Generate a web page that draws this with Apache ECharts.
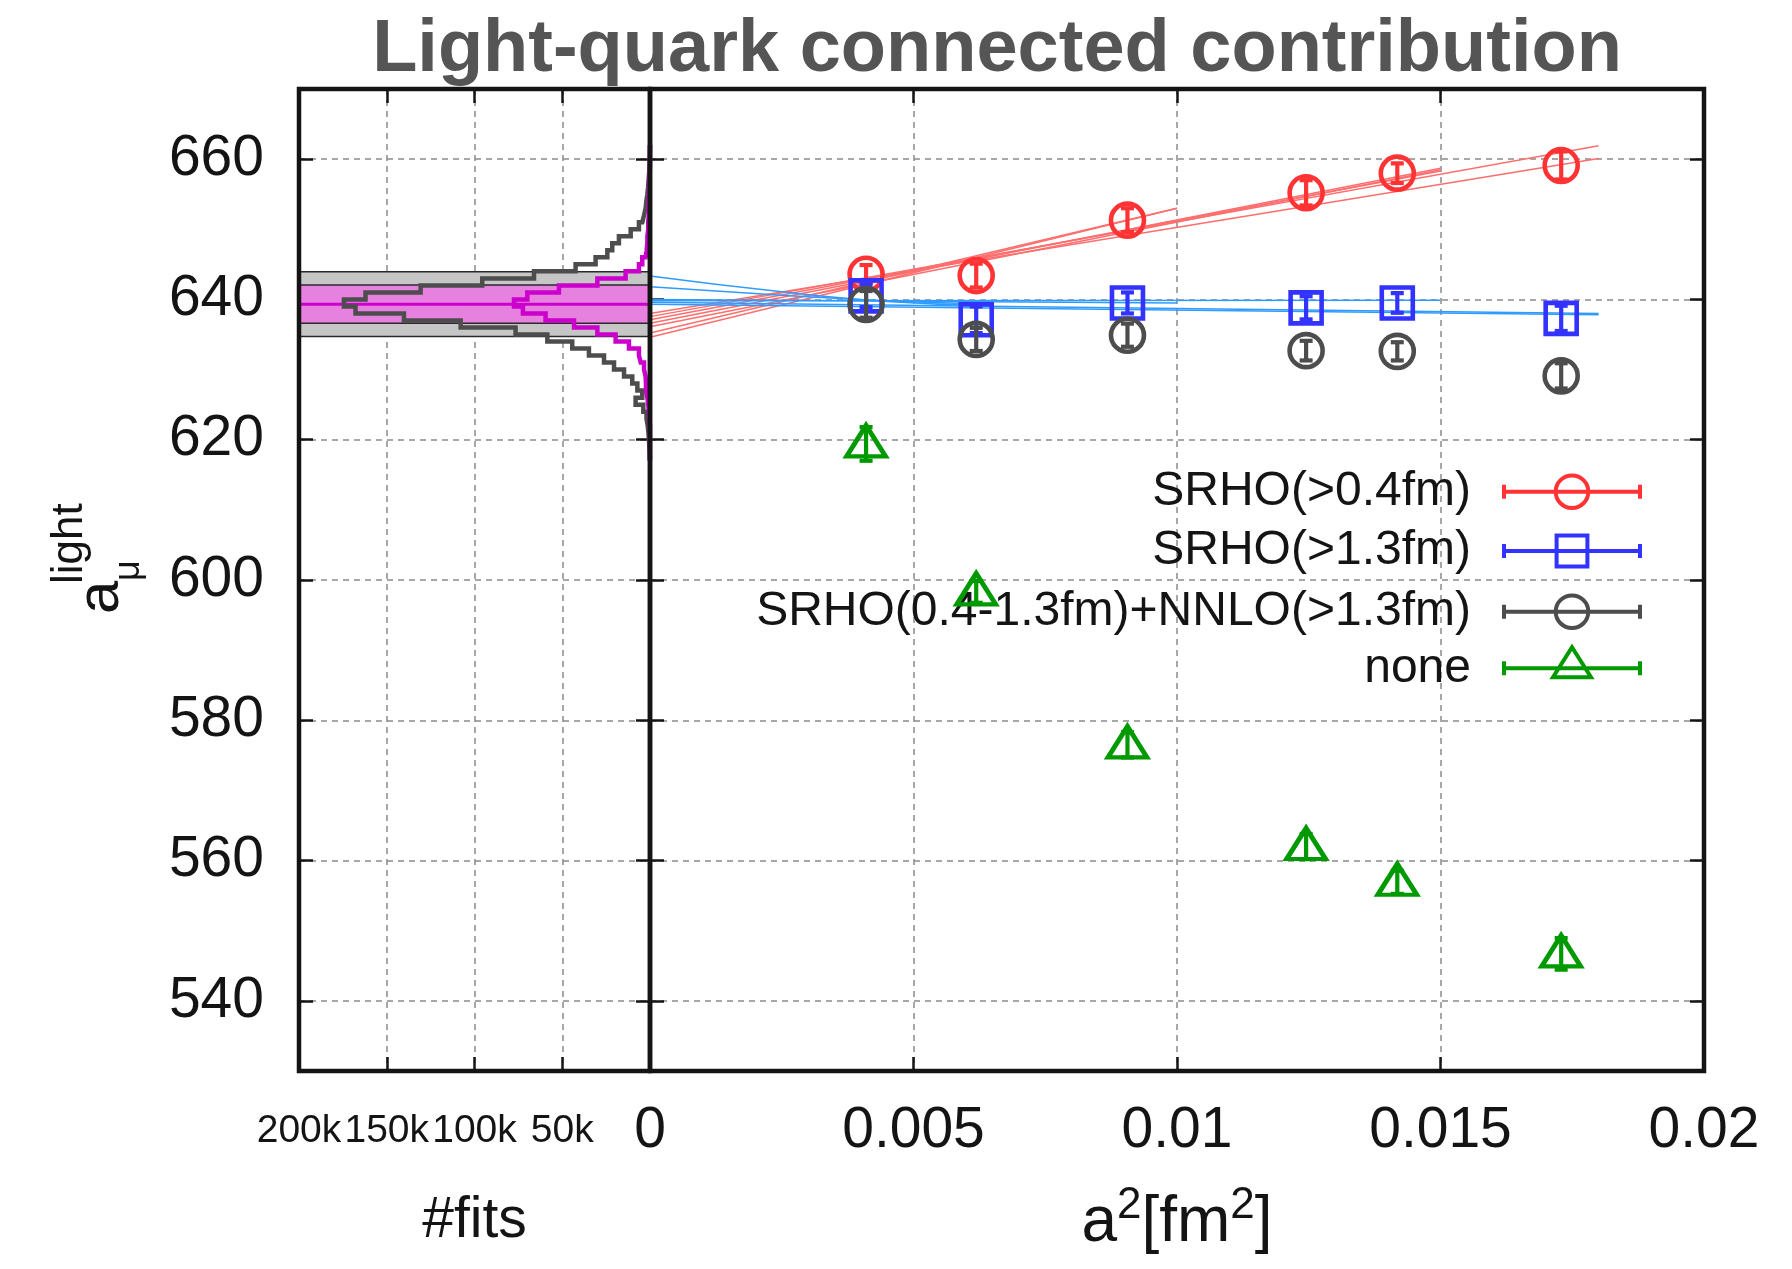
<!DOCTYPE html>
<html>
<head>
<meta charset="utf-8">
<title>Light-quark connected contribution</title>
<script src="https://cdn.jsdelivr.net/npm/echarts@6.0.0/dist/echarts.min.js"></script>
<style>
  html, body { margin: 0; padding: 0; background: #fff; }
  #chart { width: 1792px; height: 1269px; }
</style>
</head>
<body>
<div id="chart"></div>
<script>
// lattice spacings squared [fm^2]
var a2 = [0.00410, 0.00619, 0.00906, 0.01245, 0.01418, 0.01729];

// a_mu^light per ensemble, for each taste-breaking correction
var srho04 = [643.6, 643.4, 651.3, 655.2, 658.0, 659.1];
var srho04Err = [1.3, 1.7, 1.7, 1.8, 1.4, 2.0];
var srho13 = [640.5, 637.1, 639.5, 638.8, 639.5, 637.3];
var srho13Err = [1.6, 1.9, 1.5, 1.65, 1.4, 1.8];
var srhoNnlo = [639.3, 634.3, 634.9, 632.7, 632.6, 629.1];
var srhoNnloErr = [1.9, 1.65, 1.65, 1.4, 1.3, 1.8];
var noCorr = [619.4, 598.3, 576.5, 562.0, 556.9, 546.7];
var noCorrErr = [2.4, 1.55, 1.8, 1.8, 1.65, 2.25];

var seriesNames = ['SRHO(>0.4fm)', 'SRHO(>1.3fm)', 'SRHO(0.4-1.3fm)+NNLO(>1.3fm)', 'none'];

// continuum fits, sampled [a^2, a_mu]
var redFits = [
  [[0, 634.6], [0.010, 653.0]],
  [[0, 635.2], [0.010, 653.0]],
  [[0, 636.1], [0.015, 658.5]],
  [[0, 636.6], [0.015, 658.7]],
  [[0, 637.1], [0.015, 658.3]],
  [[0, 637.55], [0.018, 661.9]],
  [[0, 638.0], [0.018, 660.1]]
];
var blueFits = [
  [[0, 643.35], [0.0025, 641.1], [0.0045, 639.7], [0.0062, 639.2]],
  [[0, 641.8], [0.0025, 640.6], [0.0045, 639.8], [0.0062, 639.4]],
  [[0, 640.0], [0.010, 639.5]],
  [[0, 639.8], [0.015, 639.9]],
  [[0, 639.6], [0.018, 638.0]],
  [[0, 639.3], [0.018, 637.8]]
];

// histogram of fit results: bin lower edges (width 1) and counts
var binWidth = 1;
var binLow = [617, 618, 619, 620, 621, 622, 623, 624, 625, 626,
  627, 628, 629, 630, 631, 632, 633, 634, 635, 636,
  637, 638, 639, 640, 641, 642, 643, 644, 645, 646,
  647, 648, 649, 650, 651, 652, 653, 654, 655, 656,
  657, 658, 659, 660, 661];
var allFits = [150, 250, 400, 600, 900, 1300, 2000, 3800, 8200, 4400,
  7200, 10100, 14800, 20500, 26200, 34800, 44300, 58500, 76600, 107900,
  140200, 167800, 174400, 162100, 130700, 95600, 66100, 42400, 31000, 24300,
  21500, 17700, 11000, 6300, 4400, 3400, 2500, 2100, 1500, 1100,
  800, 500, 300, 200, 100];
var weightedFits = [0, 0, 0, 0, 0, 0, 300, 600, 1000, 1500,
  2300, 2300, 2500, 3400, 5300, 6300, 12000, 19600, 30000, 43300,
  59500, 72400, 77500, 69900, 51900, 30000, 13900, 6300, 4400, 2500,
  1900, 1500, 1500, 1000, 1000, 700, 700, 700, 400, 400,
  400, 200, 0, 0, 0];

// final result bands: [low, high] of total and statistical error, central value
var bandEdges = [[634.7, 643.96], [636.6, 642.06]];
var bandCentre = 639.31;

var histMax = 200000;
var yTicks = [540, 560, 580, 600, 620, 640, 660];

var fontFam = '"Liberation Sans", Arial, Helvetica, sans-serif';
var ink = '#141414';
var red = '#ff3333', blue = '#3333ff', grey = '#4d4d4d', green = '#009a00';

function stepOutline(counts) {
  var last = binLow.length - 1;
  var pts = [[0, binLow[last] + binWidth]];
  for (var i = last; i >= 0; i--) {
    pts.push([counts[i], binLow[i] + binWidth]);
    pts.push([counts[i], binLow[i]]);
  }
  pts.push([0, binLow[0]]);
  return pts;
}

function withErr(vals, errs) {
  return a2.map(function (x, i) { return [x, vals[i], errs[i]]; });
}

function errorBars(color) {
  return function (params, api) {
    var x = api.value(0), y = api.value(1), e = api.value(2);
    var top = api.coord([x, y + e]);
    var bot = api.coord([x, y - e]);
    var hw = 6.5;
    var st = { stroke: color, lineWidth: 4.2, fill: null };
    return {
      type: 'group',
      children: [
        { type: 'line', shape: { x1: top[0], y1: top[1], x2: bot[0], y2: bot[1] }, style: st },
        { type: 'line', shape: { x1: top[0] - hw, y1: top[1], x2: top[0] + hw, y2: top[1] }, style: st },
        { type: 'line', shape: { x1: bot[0] - hw, y1: bot[1], x2: bot[0] + hw, y2: bot[1] }, style: st }
      ]
    };
  };
}

var tickStyle = { color: ink, width: 2.5 };
var dashGrid = { show: true, lineStyle: { color: '#8a8a8a', width: 1.5, type: [6, 5] } };

function mirrorX(grid, min, max, interval, position, inverse) {
  return {
    gridIndex: grid, type: 'value', min: min, max: max, interval: interval,
    inverse: !!inverse, position: position,
    axisLine: { show: false, onZero: false },
    axisTick: { show: true, inside: true, length: 14, lineStyle: tickStyle },
    axisLabel: { show: false },
    splitLine: { show: false }
  };
}

function yAxisFor(grid, position, withLabels, withSplit) {
  return {
    gridIndex: grid, type: 'value', min: 530, max: 670, splitNumber: 7,
    position: position,
    axisLine: { show: false, onZero: false },
    axisTick: { show: true, inside: true, length: 14, lineStyle: tickStyle, customValues: yTicks },
    axisLabel: {
      show: withLabels, customValues: yTicks, margin: 35,
      fontSize: 57, fontFamily: fontFam, color: ink,
      formatter: function (v) { return v % 20 === 0 ? String(v) : ''; }
    },
    splitLine: withSplit ? dashGrid : { show: false }
  };
}

// legend icons: error-bar line with caps and the marker in the middle
var legendLine = 'M68,0M68,50M0,25L136,25M0,18L0,32M136,18L136,32';
var legendIcons = [
  'path://' + legendLine + 'M84.3,25A16.3,16.3,0,1,1,51.7,25A16.3,16.3,0,1,1,84.3,25Z',
  'path://' + legendLine + 'M52.6,9.6L83.4,9.6L83.4,40.4L52.6,40.4Z',
  'path://' + legendLine + 'M84.3,25A16.3,16.3,0,1,1,51.7,25A16.3,16.3,0,1,1,84.3,25Z',
  'path://' + legendLine + 'M68,4L87,34L49,34Z'
];
var legendColors = [red, blue, grey, green];
var legendRowY = [491.7, 551, 611.7, 668.3];

var chart = echarts.init(document.getElementById('chart'));

var series = [];

// result bands
series.push({
  type: 'custom', name: 'bands', xAxisIndex: 0, yAxisIndex: 0, z: 1, silent: true,
  data: bandEdges.map(function (b, i) { return [i, b[0], b[1]]; }),
  encode: { x: 0, y: [1, 2] },
  renderItem: function (params, api) {
    var p1 = api.coord([histMax, api.value(2)]);
    var p2 = api.coord([0, api.value(1)]);
    var fills = ['#c6c6c6', '#e681e0'];
    return {
      type: 'rect',
      shape: { x: p1[0], y: p1[1], width: p2[0] - p1[0], height: p2[1] - p1[1] },
      style: { fill: fills[params.dataIndex], stroke: '#2a2a2a', lineWidth: 1.5 }
    };
  }
});
series.push({
  type: 'line', name: 'centre', xAxisIndex: 0, yAxisIndex: 0, z: 2, silent: true,
  data: [[0, bandCentre], [histMax, bandCentre]],
  symbol: 'none', lineStyle: { color: '#cc00cc', width: 3 }
});
series.push({
  type: 'line', name: 'all fits', xAxisIndex: 0, yAxisIndex: 0, z: 3, silent: true,
  data: stepOutline(allFits), symbol: 'none',
  lineStyle: { color: '#4d4d4d', width: 4.5, join: 'miter' }
});
series.push({
  type: 'line', name: 'weighted fits', xAxisIndex: 0, yAxisIndex: 0, z: 4, silent: true,
  data: stepOutline(weightedFits), symbol: 'none',
  lineStyle: { color: '#cc00cc', width: 4.5, join: 'miter' }
});

// continuum extrapolation curves
redFits.forEach(function (f, i) {
  series.push({
    type: 'line', name: 'fit r' + i, xAxisIndex: 2, yAxisIndex: 2, z: 5, silent: true,
    data: f, symbol: 'none', smooth: f.length > 2,
    lineStyle: { color: '#ff6e6e', width: 1.5 }
  });
});
blueFits.forEach(function (f, i) {
  series.push({
    type: 'line', name: 'fit b' + i, xAxisIndex: 2, yAxisIndex: 2, z: 5, silent: true,
    data: f, symbol: 'none', smooth: f.length > 2,
    lineStyle: { color: '#2f9bff', width: 1.5 }
  });
});

// data points with error bars
var pointSets = [
  { data: withErr(srho04, srho04Err), symbol: 'circle', size: 33, offset: [0, 0] },
  { data: withErr(srho13, srho13Err), symbol: 'rect', size: 31, offset: [0, 0] },
  { data: withErr(srhoNnlo, srhoNnloErr), symbol: 'circle', size: 33, offset: [0, 0] },
  { data: withErr(noCorr, noCorrErr), symbol: 'triangle', size: [39, 31], offset: [0, -3] }
];
pointSets.forEach(function (p, i) {
  series.push({
    type: 'custom', name: seriesNames[i] + ' err', xAxisIndex: 2, yAxisIndex: 2,
    z: 10 + 2 * i, silent: true, data: p.data, encode: { x: 0, y: 1 },
    renderItem: errorBars(legendColors[i])
  });
  series.push({
    type: 'scatter', name: seriesNames[i], xAxisIndex: 2, yAxisIndex: 2,
    z: 11 + 2 * i, silent: true, data: p.data,
    symbol: p.symbol, symbolSize: p.size, symbolOffset: p.offset,
    itemStyle: { color: 'rgba(0,0,0,0)', borderColor: legendColors[i], borderWidth: 4.6, opacity: 1 }
  });
});

var option = {
  animation: false,
  backgroundColor: '#ffffff',
  textStyle: { fontFamily: fontFam },
  title: {
    text: 'Light-quark connected contribution',
    left: 997, top: 14, textAlign: 'center', padding: 0,
    textStyle: { fontFamily: fontFam, fontSize: 74, fontWeight: 'bold', color: '#555555' }
  },
  grid: [
    { left: 299, top: 89, width: 351, height: 982, show: true, z: 50,
      borderColor: ink, borderWidth: 4.5, backgroundColor: 'transparent', outerBoundsMode: 'none' },
    { left: 650, top: 89, width: 1054, height: 982, show: true, z: 50,
      borderColor: ink, borderWidth: 4.5, backgroundColor: 'transparent', outerBoundsMode: 'none' }
  ],
  xAxis: [
    {
      gridIndex: 0, type: 'value', min: 0, max: histMax, interval: 50000,
      inverse: true, position: 'bottom',
      axisLine: { show: false, onZero: false },
      axisTick: { show: true, inside: true, length: 14, lineStyle: tickStyle },
      axisLabel: {
        fontSize: 39, margin: 41, color: ink, fontFamily: fontFam,
        showMinLabel: true, showMaxLabel: true, hideOverlap: false,
        formatter: function (v) { return v === 0 ? '' : (v / 1000) + 'k'; }
      },
      splitLine: dashGrid,
      name: '#fits', nameLocation: 'middle', nameGap: 122, nameMoveOverlap: false,
      nameTextStyle: { fontSize: 57, fontFamily: fontFam, color: ink }
    },
    mirrorX(0, 0, histMax, 50000, 'top', true),
    {
      gridIndex: 1, type: 'value', min: 0, max: 0.02, interval: 0.005, position: 'bottom',
      axisLine: { show: false, onZero: false },
      axisTick: { show: true, inside: true, length: 14, lineStyle: tickStyle },
      axisLabel: {
        fontSize: 57, margin: 32, color: ink, fontFamily: fontFam,
        showMinLabel: true, showMaxLabel: true, hideOverlap: false
      },
      splitLine: dashGrid,
      name: '{m|a}{s|2}{m|[fm}{s|2}{m|]}', nameLocation: 'middle', nameGap: 113,
      nameMoveOverlap: false,
      nameTextStyle: {
        color: ink, fontFamily: fontFam,
        rich: {
          m: { fontSize: 64, lineHeight: 78, fontFamily: fontFam, color: ink },
          s: { fontSize: 44, lineHeight: 32, verticalAlign: 'top', fontFamily: fontFam, color: ink }
        }
      }
    },
    mirrorX(1, 0, 0.02, 0.005, 'top', false)
  ],
  yAxis: [
    yAxisFor(0, 'left', true, true),
    yAxisFor(0, 'right', false, false),
    yAxisFor(1, 'left', false, true),
    yAxisFor(1, 'right', false, false)
  ],
  legend: seriesNames.map(function (name, i) {
    return {
      data: [{
        name: name, icon: legendIcons[i],
        itemStyle: { color: 'rgba(0,0,0,0)', borderColor: legendColors[i], borderWidth: 4, opacity: 1 }
      }],
      orient: 'vertical', align: 'right', right: 150, top: legendRowY[i] - 27,
      padding: 0, itemWidth: 136, itemHeight: 50, selectedMode: false,
      textStyle: { fontSize: 48, fontFamily: fontFam, color: ink, padding: [0, 28, 0, 0] }
    };
  }),
  graphic: [
    { type: 'text', x: 101, y: 614, rotation: Math.PI / 2, silent: true,
      style: { text: 'a', fontSize: 60, fontFamily: fontFam, fill: ink,
        align: 'left', verticalAlign: 'middle', textAlign: 'left', textVerticalAlign: 'middle' } },
    { type: 'text', x: 70, y: 584, rotation: Math.PI / 2, silent: true,
      style: { text: 'light', fontSize: 44, fontFamily: fontFam, fill: ink,
        align: 'left', verticalAlign: 'middle', textAlign: 'left', textVerticalAlign: 'middle' } },
    { type: 'text', x: 129, y: 581, rotation: Math.PI / 2, silent: true,
      style: { text: 'μ', fontSize: 36, fontFamily: fontFam, fill: ink,
        align: 'left', verticalAlign: 'middle', textAlign: 'left', textVerticalAlign: 'middle' } }
  ],
  series: series
};

chart.setOption(option);
</script>
</body>
</html>
